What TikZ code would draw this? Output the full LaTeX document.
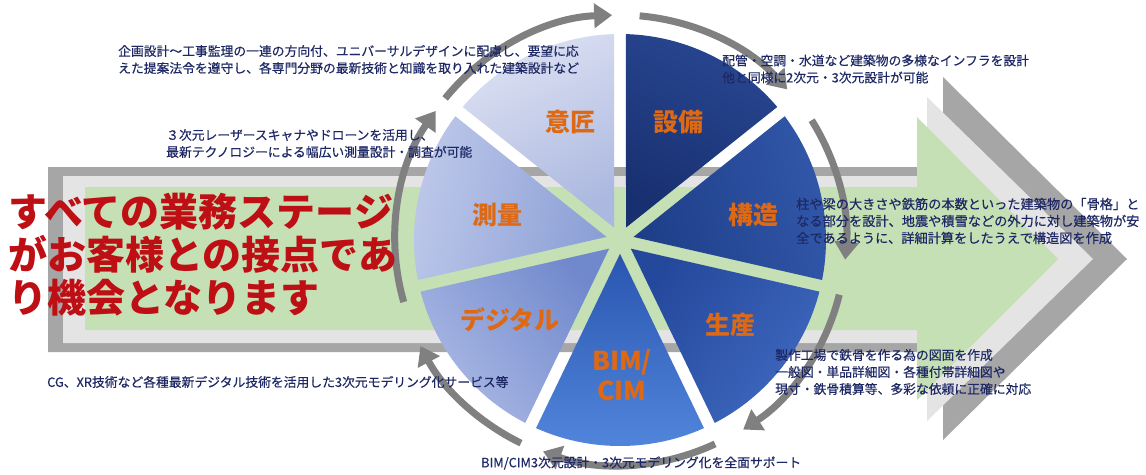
\documentclass[tikz,border=0pt]{standalone}
\usepackage{fontspec}
\newfontfamily\jp{Noto Sans CJK JP}
\newfontfamily\jpd{Noto Sans CJK JP}[FakeBold=0.4]
\usetikzlibrary{arrows.meta}
\definecolor{arrgray}{RGB}{166,166,166}
\definecolor{arrlight}{RGB}{228,228,228}
\definecolor{arrgreen}{RGB}{197,224,180}
\definecolor{arcgray}{RGB}{128,128,128}
\definecolor{descblue}{RGB}{30,40,100}
\definecolor{lblorange}{RGB}{222,105,20}
\definecolor{bigred}{RGB}{190,15,20}
% sector colours: outer (o) / inner (i)
\definecolor{sbo}{RGB}{40,70,145}\definecolor{sbi}{RGB}{24,48,112}
\definecolor{kzo}{RGB}{50,88,170}\definecolor{kzi}{RGB}{30,62,136}
\definecolor{sso}{RGB}{62,104,190}\definecolor{ssi}{RGB}{36,72,156}
\definecolor{bmo}{RGB}{82,134,220}\definecolor{bmi}{RGB}{42,86,176}
\definecolor{dgo}{RGB}{170,184,228}\definecolor{dgi}{RGB}{112,136,204}
\definecolor{sko}{RGB}{190,200,234}\definecolor{ski}{RGB}{140,160,214}
\definecolor{iso}{RGB}{220,225,242}\definecolor{isi}{RGB}{172,184,224}
\begin{document}
\begin{tikzpicture}[x=1pt,y=-1pt,
  desc/.style={font=\jpd\fontsize{12.8}{17}\selectfont, text=descblue, align=left, inner sep=0pt, anchor=west},
  lbl/.style={font=\jp\bfseries\fontsize{25}{30}\selectfont, text=lblorange, inner sep=0pt},
  cyc/.style={draw=arcgray, line width=7pt, -{Triangle[length=18pt,width=24pt]}}]
\useasboundingbox (0,0) rectangle (1146,474);
\fill[white] (0,0) rectangle (1146,474);
% background arrow
\fill[arrgray] (48,167) -- (943,167) -- (943,77) -- (1127,259) -- (943,440) -- (943,352) -- (48,352) -- cycle;
\fill[arrlight] (63,176) -- (927,176) -- (927,97) -- (1093,259) -- (927,421) -- (927,343) -- (63,343) -- cycle;
\fill[arrgreen] (85,187) -- (917,187) -- (917,117) -- (1058,259) -- (917,400) -- (917,330) -- (85,330) -- cycle;
% pie
\begin{scope}[shift={(620,240)}, y=1pt]
\foreach \a/\oc/\ic in {90/sbo/sbi, 38.5714/kzo/kzi, -12.8571/sso/ssi, -64.2857/bmo/bmi, -115.7143/dgo/dgi, -167.1429/sko/ski, 141.4286/iso/isi}{
  \pgfmathsetmacro\b{\a-51.4286}
  \pgfmathsetmacro\m{\a-25.7143}
  \pgfmathsetmacro\sa{\m-90}
  \pgfmathsetmacro\s{\a-1.661}
  \pgfmathsetmacro\e{\b+1.661}
  \shade[top color=\oc, bottom color=\ic, shading angle=\sa]
    (\m:13.83) -- (\s:206) arc[start angle=\s, end angle=\e, radius=206] -- cycle;
}
% cycle arrows
\draw[cyc] (141:225) arc[start angle=141, end angle=92, radius=225];
\draw[cyc] (85:225) arc[start angle=85, end angle=42, radius=225];
\draw[cyc] (32:226) arc[start angle=32, end angle=-5, radius=226];
\draw[cyc] (-14:226) arc[start angle=-14, end angle=-57, radius=226];
\draw[cyc] (-65:225) arc[start angle=-65, end angle=-110, radius=225];
\draw[cyc] (-116:226) arc[start angle=-116, end angle=-152, radius=226];
\draw[cyc] (196:225) arc[start angle=196, end angle=145, radius=225];
\end{scope}
% sector labels
\node[lbl] (ishou) at (570,122) {意匠};
\node[lbl] (setsubi) at (678,122) {設備};
\node[lbl] (kouzou) at (753,215) {構造};
\node[lbl] (seisan) at (730,325) {生産};
\node[lbl, align=center, font=\jp\bfseries\fontsize{26}{30}\selectfont] (bim) at (622,375) {BIM/\\CIM};
\node[lbl] (digital) at (510,320) {デジタル};
\node[lbl] (sokuryou) at (497,215) {測量};
% main message
\node[anchor=west, align=left, inner sep=0pt, text=bigred, font=\jp\bfseries\fontsize{39}{43}\selectfont] (msg) at (8,255)
  {すべての業務ステージ\\がお客様との接点であ\\り機会となります};
% descriptions
\node[desc] (dIshou) at (118,59.5) {企画設計～工事監理の一連の方向付、ユニバーサルデザインに配慮し、要望に応\\えた提案法令を遵守し、各専門分野の最新技術と知識を取り入れた建築設計など};
\node[desc] (dSetsubi) at (722,69) {配管・空調・水道など建築物の多様なインフラを設計\\他と同様に2次元・3次元設計が可能};
\node[desc] (dSokuryou) at (166,143.5) {３次元レーザースキャナやドローンを活用し、\\最新テクノロジーによる幅広い測量設計・調査が可能};
\node[desc, font=\jpd\fontsize{13.2}{17}\selectfont] (dKouzou) at (796,221) {柱や梁の大きさや鉄筋の本数といった建築物の「骨格」と\\なる部分を設計、地震や積雪などの外力に対し建築物が安\\全であるように、詳細計算をしたうえで構造図を作成};
\node[desc] (dSeisan) at (775,372) {製作工場で鉄骨を作る為の図面を作成\\一般図・単品詳細図・各種付帯詳細図や\\現寸・鉄骨積算等、多彩な依頼に正確に対応};
\node[desc] (dDigital) at (47,382) {CG、XR技術など各種最新デジタル技術を活用した3次元モデリング化サービス等};
\node[desc] (dBim) at (481,463) {BIM/CIM3次元設計・3次元モデリング化を全面サポート};
\end{tikzpicture}
\end{document}
